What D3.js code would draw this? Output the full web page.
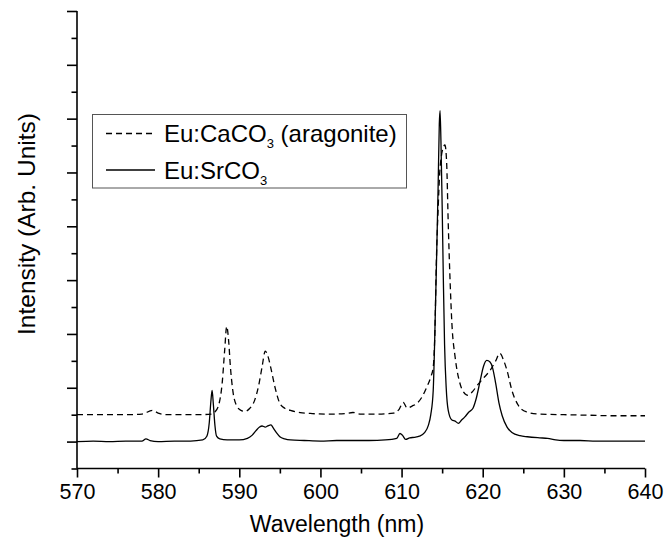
<!DOCTYPE html>
<html>
<head>
<meta charset="utf-8">
<script src="https://cdn.jsdelivr.net/npm/d3@7"></script>
<style>
  html, body { margin: 0; padding: 0; background: #fff; }
  svg { display: block; font-family: "Liberation Sans", Arial, sans-serif; }
</style>
</head>
<body>
<svg id="chart" width="665" height="545"></svg>
<script>
// Emission spectra (arbitrary intensity units)
const waveSr = [570, 572, 574, 576, 578, 578.5, 579, 580, 582, 584, 585.5, 586.0, 586.3, 586.5, 586.65, 586.8, 587.0, 587.2, 587.6, 588.5,
  590, 591, 591.6, 592.1, 592.5, 592.8, 593.2, 593.5, 593.9, 594.2, 594.6, 595.0, 595.6, 596.3, 598, 600, 602, 604, 606, 608,
  609.4, 609.8, 610.1, 610.5, 611.0, 611.6, 612.2, 612.8, 613.3, 613.6, 613.9, 614.1, 614.3, 614.5, 614.65, 614.74, 614.85, 615.0, 615.15, 615.3,
  615.5, 615.75, 616.2, 616.6, 617.0, 617.4, 617.8, 618.3, 618.8, 619.2, 619.7, 620.1, 620.5, 620.9, 621.2, 621.6, 622.0, 622.4, 623.0, 623.6,
  624.6, 625.5, 627, 628, 629, 630, 632, 634, 636, 638, 640];
const intensitySr = [0.0, 0.01, 0.0, 0.01, 0.01, 0.05, 0.02, 0.0, 0.01, 0.01, 0.03, 0.1, 0.35, 0.75, 0.95, 0.7, 0.3, 0.1, 0.05, 0.03,
  0.03, 0.06, 0.12, 0.21, 0.27, 0.29, 0.27, 0.29, 0.31, 0.25, 0.16, 0.09, 0.05, 0.03, 0.02, 0.01, 0.02, 0.02, 0.02, 0.03,
  0.06, 0.15, 0.12, 0.04, 0.07, 0.08, 0.1, 0.16, 0.3, 0.5, 0.95, 2.0, 3.3, 4.7, 5.9, 6.15, 5.6, 4.4, 3.0, 1.8,
  1.0, 0.58, 0.4, 0.38, 0.34, 0.4, 0.46, 0.55, 0.62, 0.8, 1.14, 1.4, 1.51, 1.48, 1.38, 1.08, 0.72, 0.48, 0.27, 0.17,
  0.11, 0.09, 0.07, 0.06, 0.03, 0.02, 0.02, 0.01, 0.01, 0.01, 0.01];

const waveCa = [570, 572, 574, 576, 578, 579.3, 580, 581, 583, 585, 586.5, 587.0, 587.5, 587.9, 588.2, 588.45, 588.7, 588.9, 589.2, 589.7,
  590.2, 590.7, 591.3, 591.9, 592.4, 592.8, 593.2, 593.5, 593.9, 594.4, 595.0, 595.6, 596.3, 597.5, 599, 601, 603, 604, 605, 607,
  609, 609.7, 610.2, 610.7, 611.3, 611.9, 612.6, 613.1, 613.6, 613.9, 614.1, 614.3, 614.5, 614.7, 614.9, 615.1, 615.35, 615.55, 615.75, 616.0,
  616.2, 616.6, 617.2, 617.8, 618.2, 618.7, 619.3, 620.1, 620.9, 621.6, 622.1, 622.6, 623.0, 623.6, 624.4, 625.4, 627, 630, 633, 636, 640];
const intensityCa = [0.5, 0.5, 0.5, 0.5, 0.51, 0.58, 0.53, 0.5, 0.5, 0.5, 0.51, 0.55, 0.7, 1.1, 1.7, 2.14, 1.85, 1.4, 0.95, 0.66,
  0.58, 0.56, 0.62, 0.77, 1.05, 1.38, 1.68, 1.6, 1.36, 1.01, 0.71, 0.62, 0.58, 0.54, 0.52, 0.51, 0.52, 0.54, 0.51, 0.51,
  0.53, 0.6, 0.73, 0.62, 0.66, 0.71, 0.85, 1.01, 1.2, 1.38, 2.0, 3.43, 4.3, 4.99, 5.3, 5.45, 5.51, 5.2, 4.06, 2.9,
  2.2, 1.57, 1.08, 0.89, 0.86, 0.92, 1.04, 1.18, 1.32, 1.5, 1.64, 1.5, 1.32, 0.95, 0.67, 0.55, 0.51, 0.5, 0.49, 0.48, 0.48];

const xTicks = [570, 580, 590, 600, 610, 620, 630, 640];
const xMinorTicks = [575, 585, 595, 605, 615, 625, 635];
const yTicks = [0, 1, 2, 3, 4, 5, 6, 7, 8];
const yMinorTicks = [-0.5, 0.5, 1.5, 2.5, 3.5, 4.5, 5.5, 6.5, 7.5];

const svg = d3.select("#chart");
const x = d3.scaleLinear().domain([570, 640]).range([77, 645]);
const y = d3.scaleLinear().domain([-0.5, 8]).range([468.5, 11]);

const line = d3.line().x(d => x(d[0])).y(d => y(d[1])).curve(d3.curveMonotoneX);

// Spectra
svg.append("path")
  .datum(d3.zip(waveCa, intensityCa))
  .attr("fill", "none").attr("stroke", "#000").attr("stroke-width", 1.3)
  .attr("stroke-dasharray", "6,4")
  .attr("d", line);
svg.append("path")
  .datum(d3.zip(waveSr, intensitySr))
  .attr("fill", "none").attr("stroke", "#000").attr("stroke-width", 1.3)
  .attr("d", line);

// X axis
const xAxis = svg.append("g").attr("transform", "translate(0,468.5)");
xAxis.call(d3.axisBottom(x).tickValues(xTicks).tickSize(9).tickFormat(d3.format("d")));
xAxis.append("g").call(d3.axisBottom(x).tickValues(xMinorTicks).tickSize(5).tickFormat(""))
  .call(g => g.select(".domain").remove());
xAxis.selectAll(".domain").attr("stroke-width", 1.6);
xAxis.selectAll(".tick line").attr("stroke-width", 1.6);
xAxis.selectAll(".tick text").attr("font-size", 21.5).attr("font-family", "Liberation Sans, Arial, sans-serif")
  .attr("fill", "#000").attr("dy", "1.05em").attr("y", 8);
xAxis.selectAll(".domain").attr("d", `M${x(570)},0H${x(640)}`);

// Y axis
const yAxis = svg.append("g").attr("transform", "translate(77,0)");
yAxis.call(d3.axisLeft(y).tickValues(yTicks).tickSize(10).tickFormat(""));
yAxis.append("g").call(d3.axisLeft(y).tickValues(yMinorTicks).tickSize(5.5).tickFormat(""))
  .call(g => g.select(".domain").remove());
yAxis.selectAll(".domain").attr("d", `M0,${y(8)}V${y(-0.5)}`).attr("stroke-width", 1.6);
yAxis.selectAll(".tick line").attr("stroke-width", 1.6);

// Axis titles
svg.append("text")
  .attr("x", 337).attr("y", 532)
  .attr("text-anchor", "middle").attr("font-size", 23)
  .text("Wavelength (nm)");
svg.append("text")
  .attr("transform", "translate(35,224) rotate(-90)")
  .attr("text-anchor", "middle").attr("font-size", 24.5)
  .text("Intensity (Arb. Units)");

// Legend
const legend = svg.append("g");
legend.append("rect")
  .attr("x", 92.5).attr("y", 114.5).attr("width", 314).attr("height", 73.5)
  .attr("fill", "#fff").attr("stroke", "#555").attr("stroke-width", 1);
const entries = [
  { main: "Eu:CaCO", sub: "3", tail: " (aragonite)", dash: "6,4", yy: 133.5 },
  { main: "Eu:SrCO", sub: "3", tail: "", dash: null, yy: 170 }
];
entries.forEach(e => {
  legend.append("line")
    .attr("x1", 106).attr("x2", 155).attr("y1", e.yy).attr("y2", e.yy)
    .attr("stroke", "#000").attr("stroke-width", 1.3)
    .attr("stroke-dasharray", e.dash);
  const t = legend.append("text").attr("x", 164).attr("y", e.yy + 8.5).attr("font-size", 24);
  t.append("tspan").text(e.main);
  t.append("tspan").attr("font-size", 13).attr("dy", 6).text(e.sub);
  if (e.tail) t.append("tspan").attr("dy", -6).text(e.tail);
});
</script>
</body>
</html>
